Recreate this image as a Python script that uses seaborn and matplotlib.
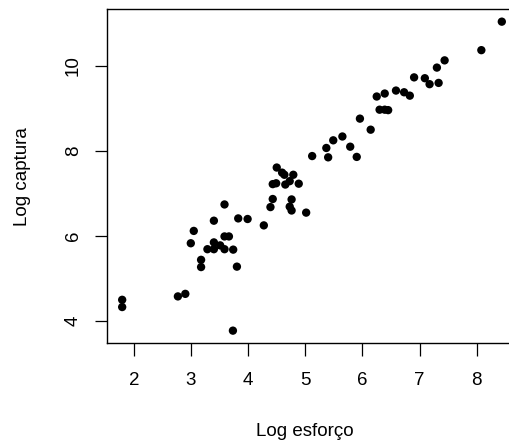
import matplotlib
matplotlib.use("Agg")
import matplotlib.pyplot as plt
import seaborn as sns
import pandas as pd

# Log effort (x) and log catch (y) per observation
log_esforco = [
    1.795, 1.795, 2.77, 2.90, 3.733, 3.586, 3.40, 3.826, 3.99, 3.048,
    2.996, 3.586, 3.663, 3.40, 3.287, 3.40, 3.51, 3.586, 3.738, 3.176,
    3.176, 3.803, 4.274, 4.39, 4.43, 4.76, 4.727, 4.76, 5.015, 4.43,
    4.49, 4.65, 4.727, 4.885, 4.79, 4.594, 4.634, 4.50, 5.12, 5.40,
    5.368, 5.489, 5.649, 5.786, 5.90, 5.956, 6.144, 6.25, 6.39, 6.30,
    6.39, 6.45, 6.587, 6.729, 6.829, 6.904, 7.092, 7.175, 7.333, 7.303,
    7.438, 8.081, 8.439,
]
log_captura = [
    4.50, 4.33, 4.58, 4.64, 3.775, 6.742, 6.36, 6.414, 6.40, 6.12,
    5.83, 5.99, 5.99, 5.85, 5.69, 5.69, 5.78, 5.69, 5.68, 5.44,
    5.27, 5.28, 6.25, 6.68, 6.87, 6.86, 6.69, 6.60, 6.55, 7.22,
    7.24, 7.21, 7.29, 7.23, 7.44, 7.49, 7.44, 7.61, 7.88, 7.85,
    8.07, 8.25, 8.34, 8.10, 7.86, 8.76, 8.50, 9.28, 9.35, 8.97,
    8.97, 8.96, 9.42, 9.38, 9.30, 9.73, 9.71, 9.57, 9.60, 9.96,
    10.13, 10.37, 11.04,
]
x_ticks = [2, 3, 4, 5, 6, 7, 8]
y_ticks = [4, 6, 8, 10]

df = pd.DataFrame({"esforco": log_esforco, "captura": log_captura})

sns.set_theme(style="white")
plt.rcParams["font.family"] = ["Liberation Sans", "DejaVu Sans"]
FS = 13.5

fig = plt.figure(figsize=(5.09, 4.45), dpi=100)
ax = fig.add_axes([0.2102, 0.2292, 0.8055, 0.7499])

sns.scatterplot(data=df, x="esforco", y="captura", ax=ax,
                color="black", edgecolor="none", s=36, linewidth=0)

ax.margins(x=0.04, y=0.04)
ax.set_xticks(x_ticks)
ax.set_yticks(y_ticks)
ax.set_xticklabels([str(v) for v in x_ticks], fontsize=FS)
ax.set_yticklabels([str(v) for v in y_ticks], fontsize=FS,
                   rotation=90, va="center")
ax.tick_params(axis="both", direction="out", length=9, width=0.9,
               color="black", labelcolor="black", bottom=True, left=True)
ax.tick_params(axis="x", pad=12)
ax.tick_params(axis="y", pad=9)

for sp in ax.spines.values():
    sp.set_visible(True)
    sp.set_color("black")
    sp.set_linewidth(1.0)

ax.set_xlabel("Log esforço", fontsize=FS, color="black", va="center")
ax.set_ylabel("Log captura", fontsize=FS, color="black", va="center")
ax.xaxis.set_label_coords((304.7 - 107) / 410, -0.266)
ax.yaxis.set_label_coords(-0.205, 0.5)

fig.savefig("out.png", dpi=100)
